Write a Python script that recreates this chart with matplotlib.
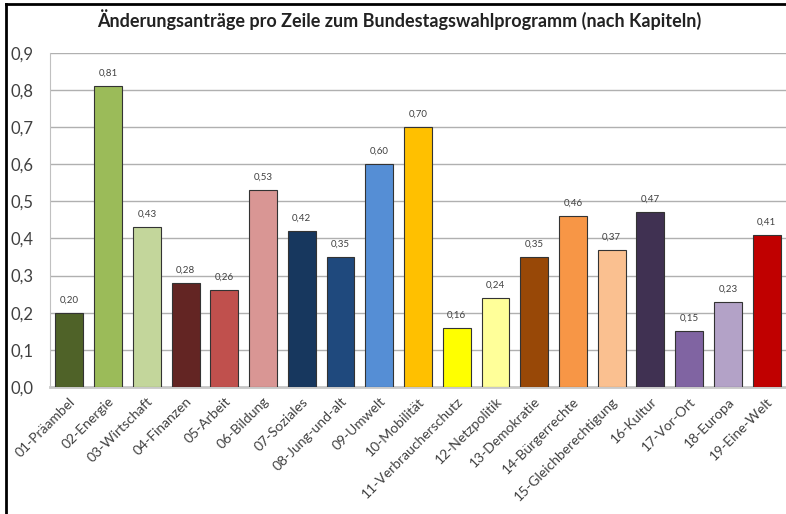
import matplotlib.pyplot as plt
from matplotlib.lines import Line2D

chapters = ["01-Präambel", "02-Energie", "03-Wirtschaft", "04-Finanzen", "05-Arbeit",
            "06-Bildung", "07-Soziales", "08-Jung-und-alt", "09-Umwelt", "10-Mobilität",
            "11-Verbraucherschutz", "12-Netzpolitik", "13-Demokratie", "14-Bürgerrechte",
            "15-Gleichberechtigung", "16-Kultur", "17-Vor-Ort", "18-Europa", "19-Eine-Welt"]
values = [0.20, 0.81, 0.43, 0.28, 0.26, 0.53, 0.42, 0.35, 0.60, 0.70,
          0.16, 0.24, 0.35, 0.46, 0.37, 0.47, 0.15, 0.23, 0.41]
colors = ["#4F6228", "#9BBB59", "#C3D69B", "#632523", "#C0504D", "#D99694",
          "#17375E", "#1F497D", "#558ED5", "#FFC000", "#FFFF00", "#FFFF99",
          "#984807", "#F79646", "#FAC090", "#403152", "#8064A2", "#B3A2C7", "#C00000"]
yticks = [0.0, 0.1, 0.2, 0.3, 0.4, 0.5, 0.6, 0.7, 0.8, 0.9]

plt.rcParams['font.family'] = ['Lato', 'DejaVu Sans']

fig = plt.figure(figsize=(7.86, 5.14), dpi=100)
ax = fig.add_axes([50 / 786, 1 - 387 / 514, 736 / 786, (387 - 52.7) / 514])

x = list(range(len(values)))
ax.bar(x, values, width=0.72, color=colors, edgecolor="#333333", linewidth=0.8, zorder=3)

# value labels above bars
for xi, v in zip(x, values):
    ax.annotate(f"{v:.2f}".replace(".", ","), (xi, v), xytext=(0, 6),
                textcoords="offset points", ha="center", va="bottom",
                fontsize=7, color="#404040")

ax.set_xlim(-0.5, len(values) - 0.5)
ax.set_ylim(0, 0.9)
ax.set_yticks(yticks)
ax.set_yticklabels([f"{t:.1f}".replace(".", ",") for t in yticks], fontsize=12, color="#404040")
ax.set_xticks(x)
ax.set_xticklabels(chapters, rotation=45, ha="right", rotation_mode="anchor",
                   fontsize=10, color="#404040")
ax.tick_params(axis="both", length=0)
ax.tick_params(axis="y", pad=12)
ax.tick_params(axis="x", pad=6)

ax.grid(axis="y", color="#b0b0b0", linewidth=1, zorder=0)
for side in ["top", "right"]:
    ax.spines[side].set_visible(False)
ax.spines["left"].set_color("#c0c0c0")
ax.spines["bottom"].set_color("#c8c8c8")
ax.spines["bottom"].set_linewidth(2)

fig.text(0.508, 1 - 20 / 514, "Änderungsanträge pro Zeile zum Bundestagswahlprogramm (nach Kapiteln)",
         ha="center", va="center", fontsize=13, fontweight="bold", color="#222222")

# outer frame lines (top and left)
fig.add_artist(Line2D([6 / 786, 6 / 786], [0, 1 - 4 / 514], transform=fig.transFigure,
                      color="black", linewidth=2))
fig.add_artist(Line2D([6 / 786, 1], [1 - 4 / 514, 1 - 4 / 514], transform=fig.transFigure,
                      color="black", linewidth=2))

fig.savefig("out.png", dpi=100)
